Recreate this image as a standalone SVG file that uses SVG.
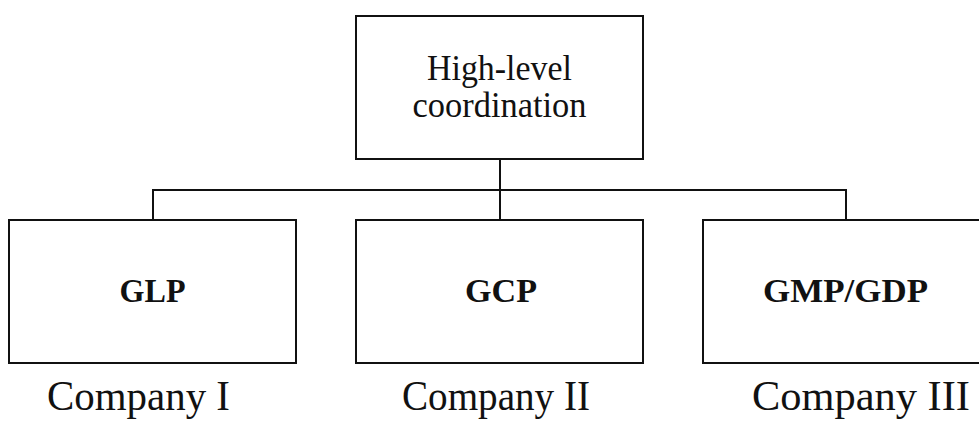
<svg xmlns="http://www.w3.org/2000/svg" width="979" height="423" viewBox="0 0 979 423">
<style>
.box{fill:#fff;stroke:#111;stroke-width:2}
.con{fill:none;stroke:#111;stroke-width:2}
.t{font-family:"Liberation Serif","Times New Roman",serif;fill:#111;text-anchor:middle}
.b{font-weight:bold;font-size:33px}
.n{font-size:35px}
.c{font-size:43px}
</style>
<rect width="979" height="423" fill="#fff"/>
<g id="connectors">
<path class="con" d="M500,159 V220"/>
<path class="con" d="M153,220 V190 H846 V220"/>
</g>
<g id="top">
<rect class="box" x="356" y="16" width="287" height="143"/>
<text class="t n" x="499.5" y="80" textLength="145" lengthAdjust="spacingAndGlyphs">High-level</text>
<text class="t n" x="499.5" y="117" textLength="174" lengthAdjust="spacingAndGlyphs">coordination</text>
</g>
<g id="glp">
<rect class="box" x="9" y="220" width="287" height="143"/>
<text class="t b" x="152.5" y="302" textLength="66" lengthAdjust="spacingAndGlyphs">GLP</text>
</g>
<g id="gcp">
<rect class="box" x="356" y="220" width="287" height="143"/>
<text class="t b" x="501" y="302" textLength="72" lengthAdjust="spacingAndGlyphs">GCP</text>
</g>
<g id="gmp">
<rect class="box" x="703" y="220" width="288" height="143"/>
<text class="t b" x="845.5" y="302" textLength="165" lengthAdjust="spacingAndGlyphs">GMP/GDP</text>
</g>
<g id="labels">
<text class="t c" x="138.5" y="410" textLength="183" lengthAdjust="spacingAndGlyphs">Company I</text>
<text class="t c" x="496" y="410" textLength="188" lengthAdjust="spacingAndGlyphs">Company II</text>
<text class="t c" x="861" y="410" textLength="218" lengthAdjust="spacingAndGlyphs">Company III</text>
</g>
</svg>
